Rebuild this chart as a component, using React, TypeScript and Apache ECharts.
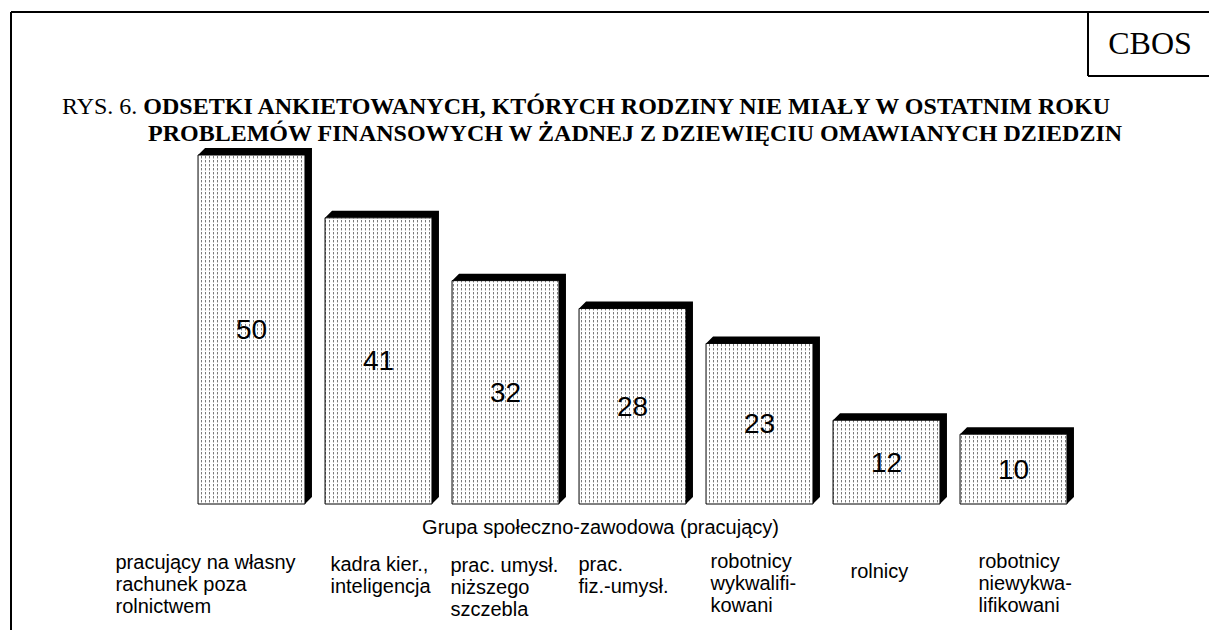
import React, { useEffect, useRef } from "react";
import * as echarts from "echarts";

const categories = [
  "pracujący na własny\nrachunek poza\nrolnictwem",
  "kadra kier.,\ninteligencja",
  "prac. umysł.\nniższego\nszczebla",
  "prac.\nfiz.-umysł.",
  "robotnicy\nwykwalifi-\nkowani",
  "rolnicy",
  "robotnicy\nniewykwa-\nlifikowani",
];
const values = [50, 41, 32, 28, 23, 12, 10];
const axisName = "Grupa społeczno-zawodowa (pracujący)";
const titlePrefix = "RYS. 6. ";
const titleLine1 = "ODSETKI ANKIETOWANYCH, KTÓRYCH RODZINY NIE MIAŁY W OSTATNIM ROKU";
const titleLine2 = "PROBLEMÓW FINANSOWYCH W ŻADNEJ Z DZIEWIĘCIU OMAWIANYCH DZIEDZIN";
const sourceLabel = "CBOS";

// label placement (style only): x offset from category centre, y offset below baseline
const labelDx = [-136, -48, -55, -54, -49, -36, -35];
const labelDy = [47, 49, 50, 49, 46, 56, 46];

const SERIF = '"Liberation Serif", "Times New Roman", serif';
const SANS = '"Liberation Sans", Arial, sans-serif';

function makePattern(): string {
  const c = document.createElement("canvas");
  c.width = 4;
  c.height = 4;
  const ctx = c.getContext("2d");
  if (ctx) {
    ctx.fillStyle = "#ffffff";
    ctx.fillRect(0, 0, 4, 4);
    ctx.fillStyle = "#7a7a7a";
    ctx.fillRect(1, 0, 1, 2);
    ctx.fillStyle = "#c8c8c8";
    ctx.fillRect(1, 2, 1, 1);
  }
  return c.toDataURL();
}

export default function App() {
  const ref = useRef<HTMLDivElement>(null);
  useEffect(() => {
    if (!ref.current) return;
    const chart = echarts.init(ref.current, null, { renderer: "svg" });
    const patternImg = makePattern();
    const pattern: any = { image: patternImg, repeat: "repeat" };
    const depth = 7;

    const option: any = {
      animation: false,
      backgroundColor: "#ffffff",
      title: [
        {
          left: 62,
          top: 94,
          padding: 0,
          text: `{n|${titlePrefix}}{b|${titleLine1}}`,
          textStyle: {
            rich: {
              n: { fontFamily: SERIF, fontSize: 24, fontWeight: "normal", color: "#000" },
              b: { fontFamily: SERIF, fontSize: 24, fontWeight: "bold", color: "#000" },
            },
          },
        },
        {
          left: 148,
          top: 121,
          padding: 0,
          text: titleLine2,
          textStyle: { fontFamily: SERIF, fontSize: 24, fontWeight: "bold", color: "#000" },
        },
      ],
      grid: { left: 188, right: 132, top: 155, bottom: 126 },
      xAxis: {
        type: "category",
        data: categories,
        axisLine: { show: false },
        axisTick: { show: false },
        axisLabel: { show: false },
        name: axisName,
        nameLocation: "middle",
        nameGap: 13,
        nameTextStyle: {
          fontFamily: SANS,
          fontSize: 20,
          color: "#000",
          padding: [0, 64, 0, 0],
        },
      },
      yAxis: {
        type: "value",
        min: 0,
        max: 50,
        show: false,
        splitLine: { show: false },
      },
      graphic: [
        { type: "line", shape: { x1: 11, y1: 12, x2: 1209, y2: 12 }, style: { stroke: "#000", lineWidth: 2 } },
        { type: "line", shape: { x1: 11, y1: 12, x2: 11, y2: 630 }, style: { stroke: "#000", lineWidth: 2 } },
        { type: "line", shape: { x1: 1088, y1: 12, x2: 1088, y2: 76 }, style: { stroke: "#000", lineWidth: 2 } },
        { type: "line", shape: { x1: 1088, y1: 76, x2: 1209, y2: 76 }, style: { stroke: "#000", lineWidth: 2 } },
        {
          type: "text",
          x: 1150,
          y: 43,
          style: {
            text: sourceLabel,
            font: `32px ${SERIF}`,
            fill: "#000",
            align: "center",
            verticalAlign: "middle",
          },
        },
      ],
      series: [
        {
          type: "custom",
          data: values.map((v, i) => [i, v]),
          renderItem: (params: any, api: any) => {
            const i = api.value(0) as number;
            const v = api.value(1) as number;
            const top = api.coord([i, v]);
            const base = api.coord([i, 0]);
            const band = api.size([1, 0])[0];
            const w = band * 0.842;
            const x0 = top[0] - w / 2;
            const x1 = top[0] + w / 2;
            const yt = top[1];
            const yb = base[1];
            return {
              type: "group",
              children: [
                {
                  type: "polygon",
                  shape: {
                    points: [
                      [x0, yt],
                      [x0 + depth, yt - depth],
                      [x1 + depth, yt - depth],
                      [x1 + depth, yb - depth],
                      [x1, yb],
                      [x1, yt],
                    ],
                  },
                  style: { fill: "#000" },
                },
                {
                  type: "rect",
                  shape: { x: x0, y: yt, width: w, height: yb - yt },
                  style: { fill: pattern, stroke: "#000", lineWidth: 1 },
                },
                {
                  type: "text",
                  x: top[0],
                  y: (yt + yb) / 2,
                  style: {
                    text: String(v),
                    font: `28px ${SANS}`,
                    fill: "#000",
                    align: "center",
                    verticalAlign: "middle",
                  },
                },
                {
                  type: "text",
                  x: top[0] + labelDx[i],
                  y: yb + labelDy[i],
                  style: {
                    text: categories[i],
                    font: `20px ${SANS}`,
                    lineHeight: 22,
                    fill: "#000",
                    align: "left",
                    verticalAlign: "top",
                  },
                },
              ],
            };
          },
        },
      ],
    };
    chart.setOption(option);
    return () => chart.dispose();
  }, []);
  return (
    <div
      ref={ref}
      style={{ position: "fixed", left: 0, top: 0, width: 1209, height: 630, background: "#fff" }}
    />
  );
}
